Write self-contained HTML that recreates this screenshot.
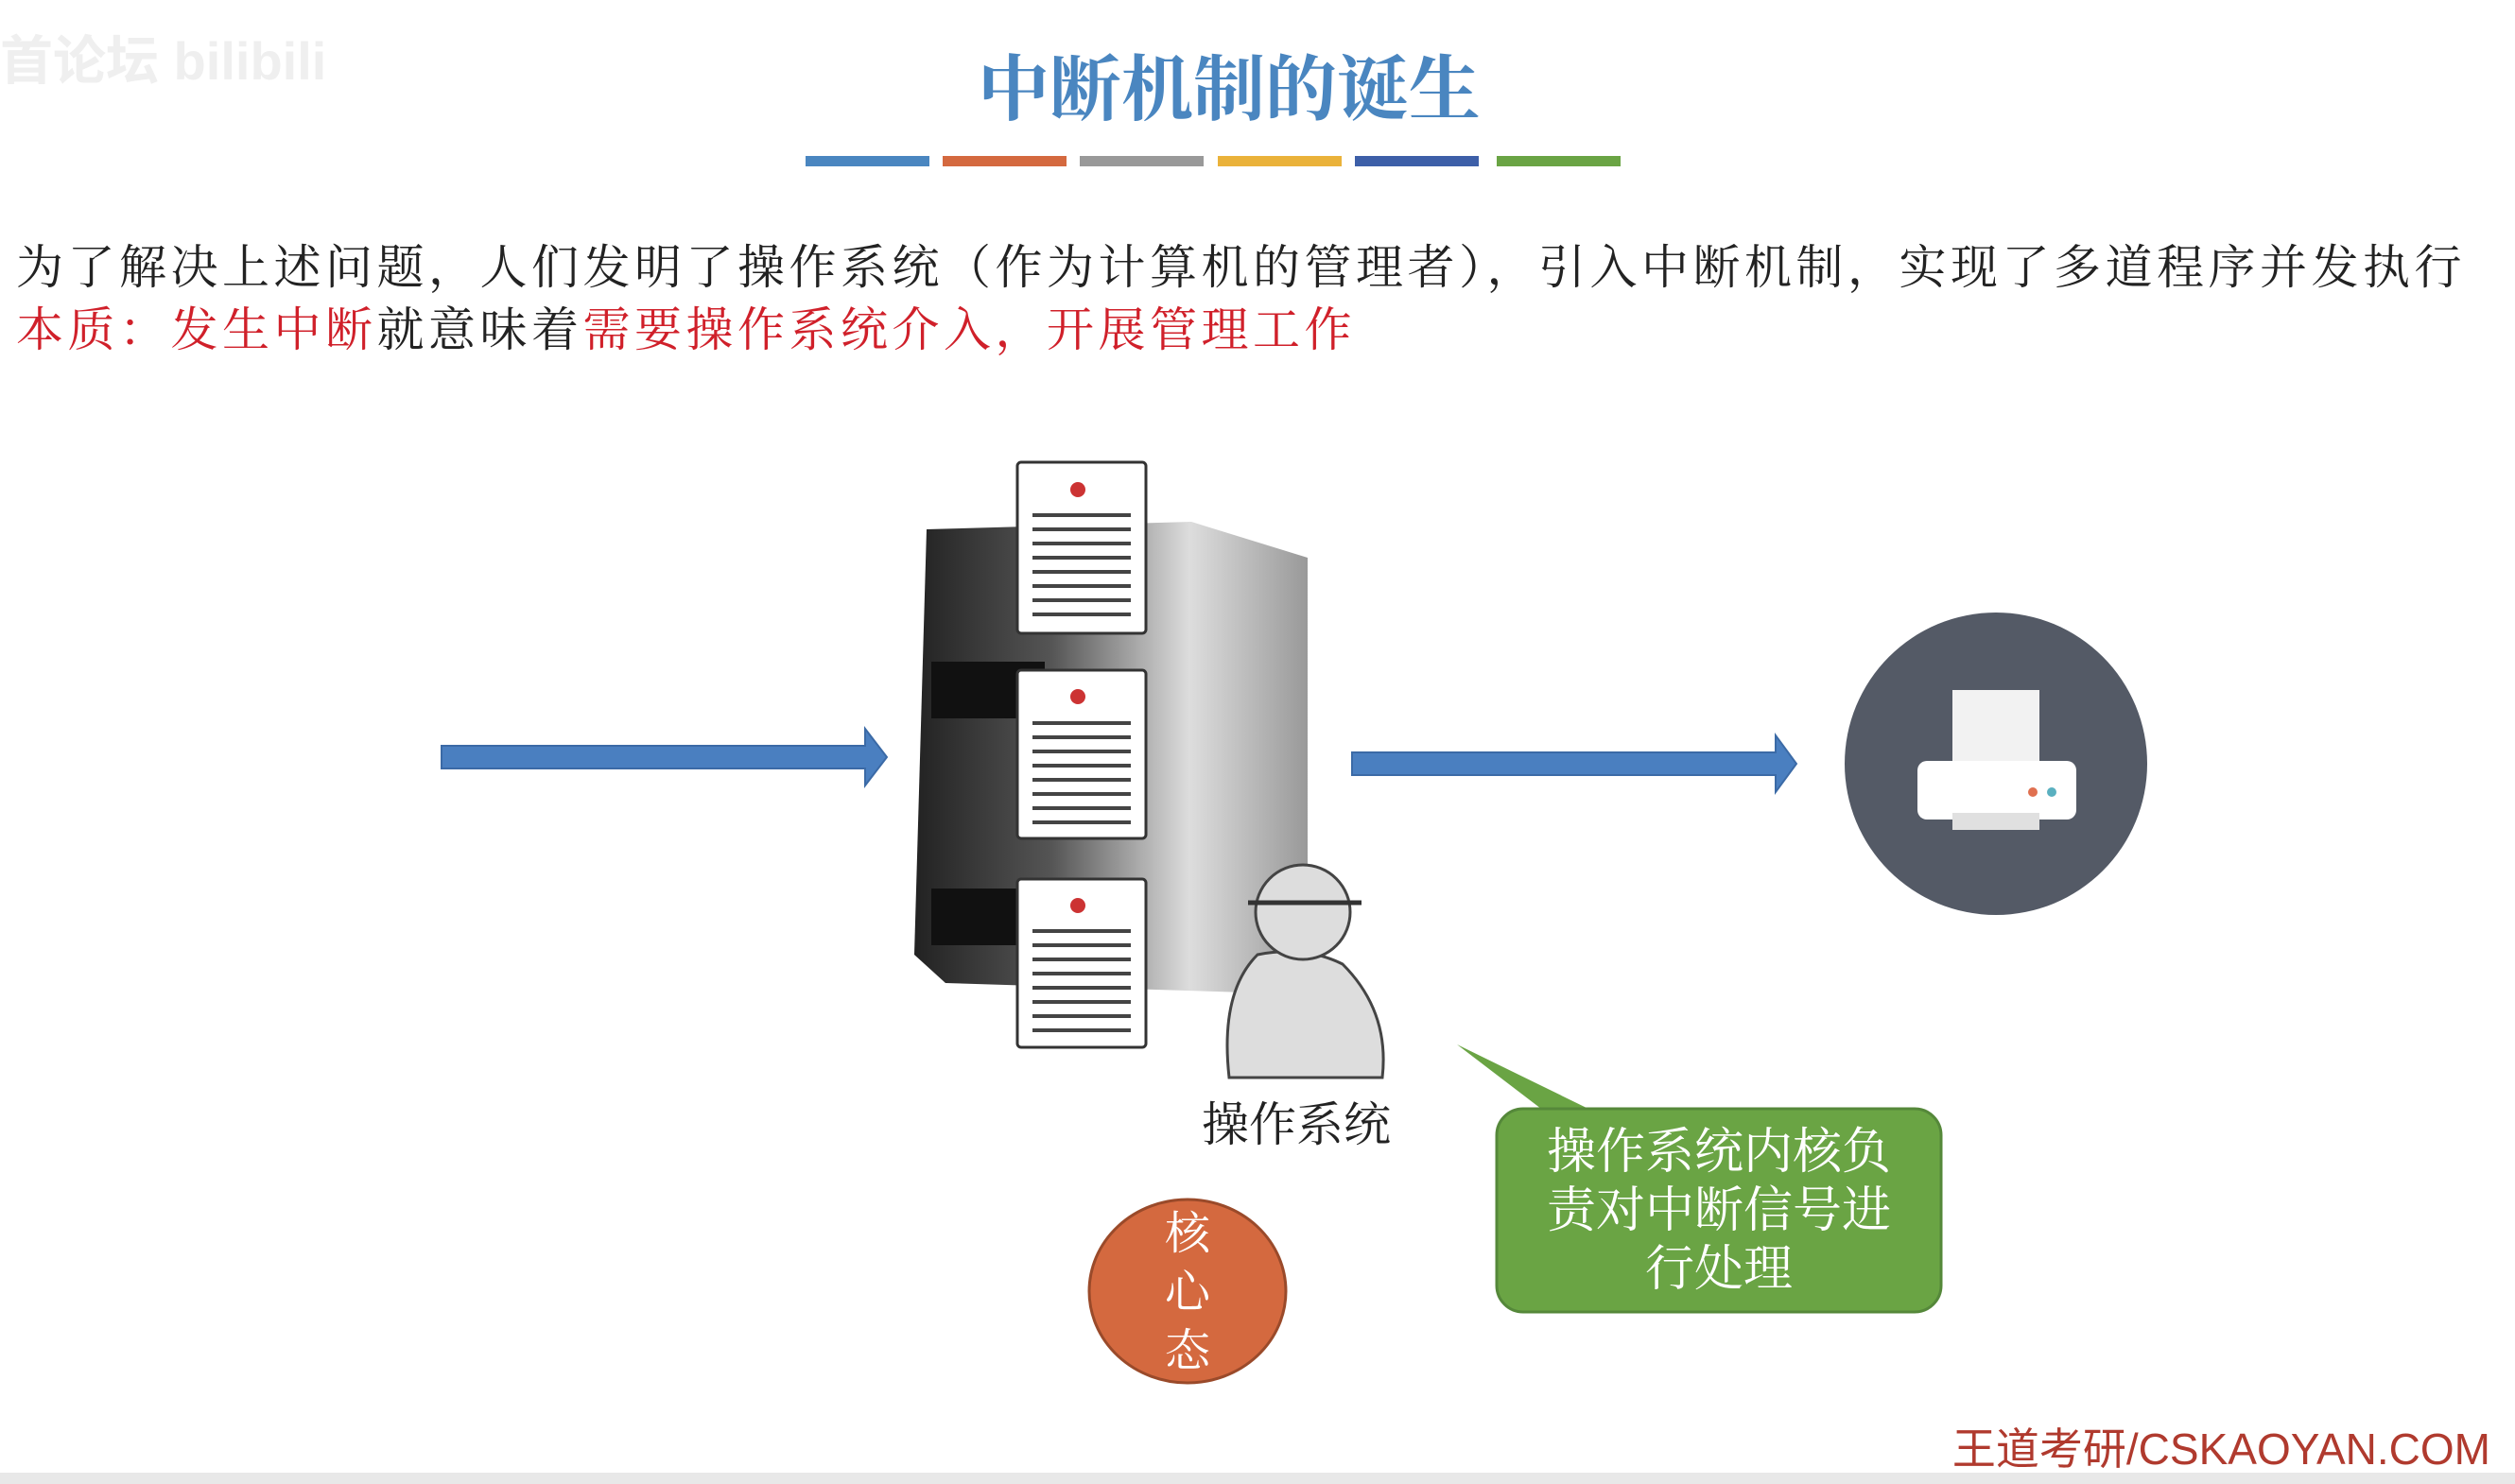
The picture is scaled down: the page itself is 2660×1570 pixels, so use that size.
<!DOCTYPE html>
<html><head><meta charset="utf-8"><style>
html,body{margin:0;padding:0;width:2660px;height:1570px;overflow:hidden;background:#fff;font-family:"Liberation Sans","Noto Sans CJK SC",sans-serif;}
.a{position:absolute;}
.cn{font-family:"Noto Serif CJK SC","Noto Sans CJK SC",serif;}
.t{left:17px;font-size:50px;color:#222;white-space:nowrap;letter-spacing:4.5px;}
.r{color:#d0202a;}
</style></head><body>
<div class="a" style="left:0;top:20px;font-size:56px;color:#efefef;font-weight:bold;">首论坛 bilibili</div>
<div class="a cn" style="left:0;width:2600px;top:34px;text-align:center;font-size:76px;color:#4a86c0;font-weight:bold;">中断机制的诞生</div>
<div class="a" style="left:852px;top:165px;width:131px;height:11px;background:#4a86c0"></div>
<div class="a" style="left:997px;top:165px;width:131px;height:11px;background:#d4693f"></div>
<div class="a" style="left:1142px;top:165px;width:131px;height:11px;background:#999"></div>
<div class="a" style="left:1288px;top:165px;width:131px;height:11px;background:#eab23a"></div>
<div class="a" style="left:1433px;top:165px;width:131px;height:11px;background:#3d5fa8"></div>
<div class="a" style="left:1583px;top:165px;width:131px;height:11px;background:#6aa444"></div>
<div class="a t cn" style="top:243px;">为了解决上述问题，人们发明了操作系统（作为计算机的管理者），引入中断机制，实现了多道程序并发执行</div>
<div class="a t cn" style="top:309px;"><span class="r">本质：发生中断</span>就意味着<span class="r">需要操作系统介入，开展管理工作</span></div>
<svg class="a" style="left:0;top:0" width="2660" height="1570">
<defs><linearGradient id="g" x1="0" x2="1"><stop offset="0" stop-color="#222"/><stop offset="0.35" stop-color="#555"/><stop offset="0.7" stop-color="#ddd"/><stop offset="1" stop-color="#999"/></linearGradient></defs>
<path d="M467 789H915V771L938 801L915 831V813H467Z" fill="#4a7fc0" stroke="#3b6aa6" stroke-width="2"/>
<path d="M1430 796H1878V778L1900 808L1878 838V820H1430Z" fill="#4a7fc0" stroke="#3b6aa6" stroke-width="2"/>
<circle cx="2111" cy="808" r="160" fill="#545a66"/>
<rect x="2065" y="730" width="92" height="80" fill="#f2f2f2"/>
<rect x="2028" y="805" width="168" height="62" rx="10" fill="#fff"/>
<rect x="2065" y="860" width="92" height="18" fill="#e0e0e0"/>
<circle cx="2150" cy="838" r="5" fill="#e07050"/><circle cx="2170" cy="838" r="5" fill="#5ab0c0"/>
<path d="M980 560L1260 552L1383 590V1052L1000 1040L967 1010Z" fill="url(#g)"/>
<rect x="985" y="700" width="120" height="60" fill="#111"/>
<rect x="985" y="940" width="120" height="60" fill="#111"/>
<g fill="#fff" stroke="#333" stroke-width="3">
<rect x="1076" y="489" width="136" height="181" rx="4"/>
<rect x="1076" y="709" width="136" height="178" rx="4"/>
<rect x="1076" y="930" width="136" height="178" rx="4"/>
</g>
<g fill="#c33"><circle cx="1140" cy="518" r="8"/><circle cx="1140" cy="737" r="8"/><circle cx="1140" cy="958" r="8"/></g>
<g stroke="#444" stroke-width="4">
<path d="M1092 545H1196M1092 560H1196M1092 575H1196M1092 590H1196M1092 605H1196M1092 620H1196M1092 635H1196M1092 650H1196"/>
<path d="M1092 765H1196M1092 780H1196M1092 795H1196M1092 810H1196M1092 825H1196M1092 840H1196M1092 855H1196M1092 870H1196"/>
<path d="M1092 985H1196M1092 1000H1196M1092 1015H1196M1092 1030H1196M1092 1045H1196M1092 1060H1196M1092 1075H1196M1092 1090H1196"/>
</g>
<g fill="#ddd" stroke="#444" stroke-width="3">
<path d="M1300 1140Q1290 1050 1330 1010Q1380 1000 1420 1020Q1470 1070 1462 1140Z"/>
<circle cx="1378" cy="965" r="50"/>
</g>
<path d="M1320 955H1440" stroke="#333" stroke-width="5"/>
<path d="M1541 1105L1680 1173H1630Z" fill="#6aa444"/>
<rect x="1583" y="1173" width="470" height="215" rx="28" fill="#6aa444" stroke="#55883a" stroke-width="3"/>
<ellipse cx="1256" cy="1366" rx="104" ry="97" fill="#d4693f" stroke="#9a4a2a" stroke-width="3"/>
<rect x="0" y="1558" width="2660" height="12" fill="#e8e8e8"/>
</svg>
<div class="a cn" style="left:1271px;top:1150px;width:200px;text-align:center;font-size:50px;color:#222;">操作系统</div>
<div class="a cn" style="left:1583px;top:1183px;width:470px;text-align:center;font-size:52px;line-height:62px;color:#fff;">操作系统内核负<br>责对中断信号进<br>行处理</div>
<div class="a cn" style="left:1206px;top:1270px;width:100px;text-align:center;font-size:48px;line-height:62px;color:#fff;">核<br>心<br>态</div>
<div class="a" style="right:26px;top:1497px;font-size:46px;color:#b03a2e;">王道考研/CSKAOYAN.COM</div>
</body></html>
